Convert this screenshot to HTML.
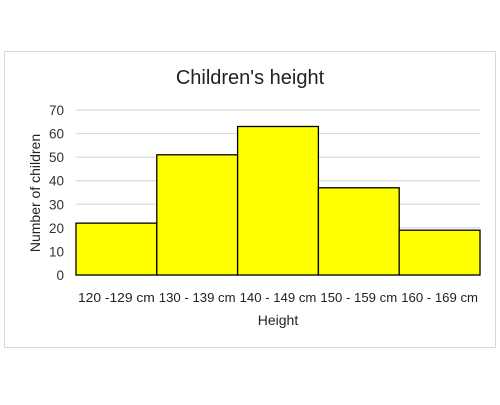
<!DOCTYPE html>
<html><head><meta charset="utf-8"><style>
body{margin:0;background:#fff;font-family:"Liberation Sans",sans-serif}
</style></head><body>
<svg width="500" height="400" xmlns="http://www.w3.org/2000/svg">
<rect x="4.5" y="51.5" width="491" height="296" fill="#fff" stroke="#d9d9d9"/>
<text x="250" y="84" text-anchor="middle" font-size="20" fill="#222">Children's height</text>
<g id="grid"></g><g id="bars"></g><g id="labels"></g>
<text x="278" y="325" text-anchor="middle" font-size="14" fill="#222">Height</text>
<text transform="translate(40,193) rotate(-90)" text-anchor="middle" font-size="14" fill="#222">Number of children</text>
</svg>
<script>
const categories=["120 -129 cm","130 - 139 cm","140 - 149 cm","150 - 159 cm","160 - 169 cm"];
const values=[22,51,63,37,19];
const ticks=[0,10,20,30,40,50,60,70];
const NS="http://www.w3.org/2000/svg";
const x0=76,x1=480,y0=275,yTop=110,ymax=70;
const y=v=>y0-(v/ymax)*(y0-yTop);
const bw=(x1-x0)/categories.length;
const xs=i=>x0+i*bw;
function mk(t,a,p){const e=document.createElementNS(NS,t);for(const k in a)e.setAttribute(k,a[k]);p.appendChild(e);return e;}
const g=document.getElementById('grid'),b=document.getElementById('bars'),l=document.getElementById('labels');
ticks.forEach(t=>{
 const ln=mk('line',{x1:x0,x2:x1,y1:y(t),y2:y(t),stroke:'#d9d9d9','stroke-width':1.2},g);
 
 
 const tx=mk('text',{x:64,y:y(t)+5,'text-anchor':'end','font-size':13.5,fill:'#333'},l);
 tx.textContent=t;
 
 
});
values.forEach((v,i)=>{
 const r=mk('rect',{x:xs(i),y:y(v),width:bw,height:y0-y(v),fill:'#ffff00',stroke:'#000','stroke-width':1.3},b);
 
 
 const tx=mk('text',{x:xs(i)+bw/2,y:302,'text-anchor':'middle','font-size':13.3,fill:'#222',textLength:bw-4,lengthAdjust:'spacingAndGlyphs'},l);
 tx.textContent=categories[i];
 
 
});
</script>
</body></html>
